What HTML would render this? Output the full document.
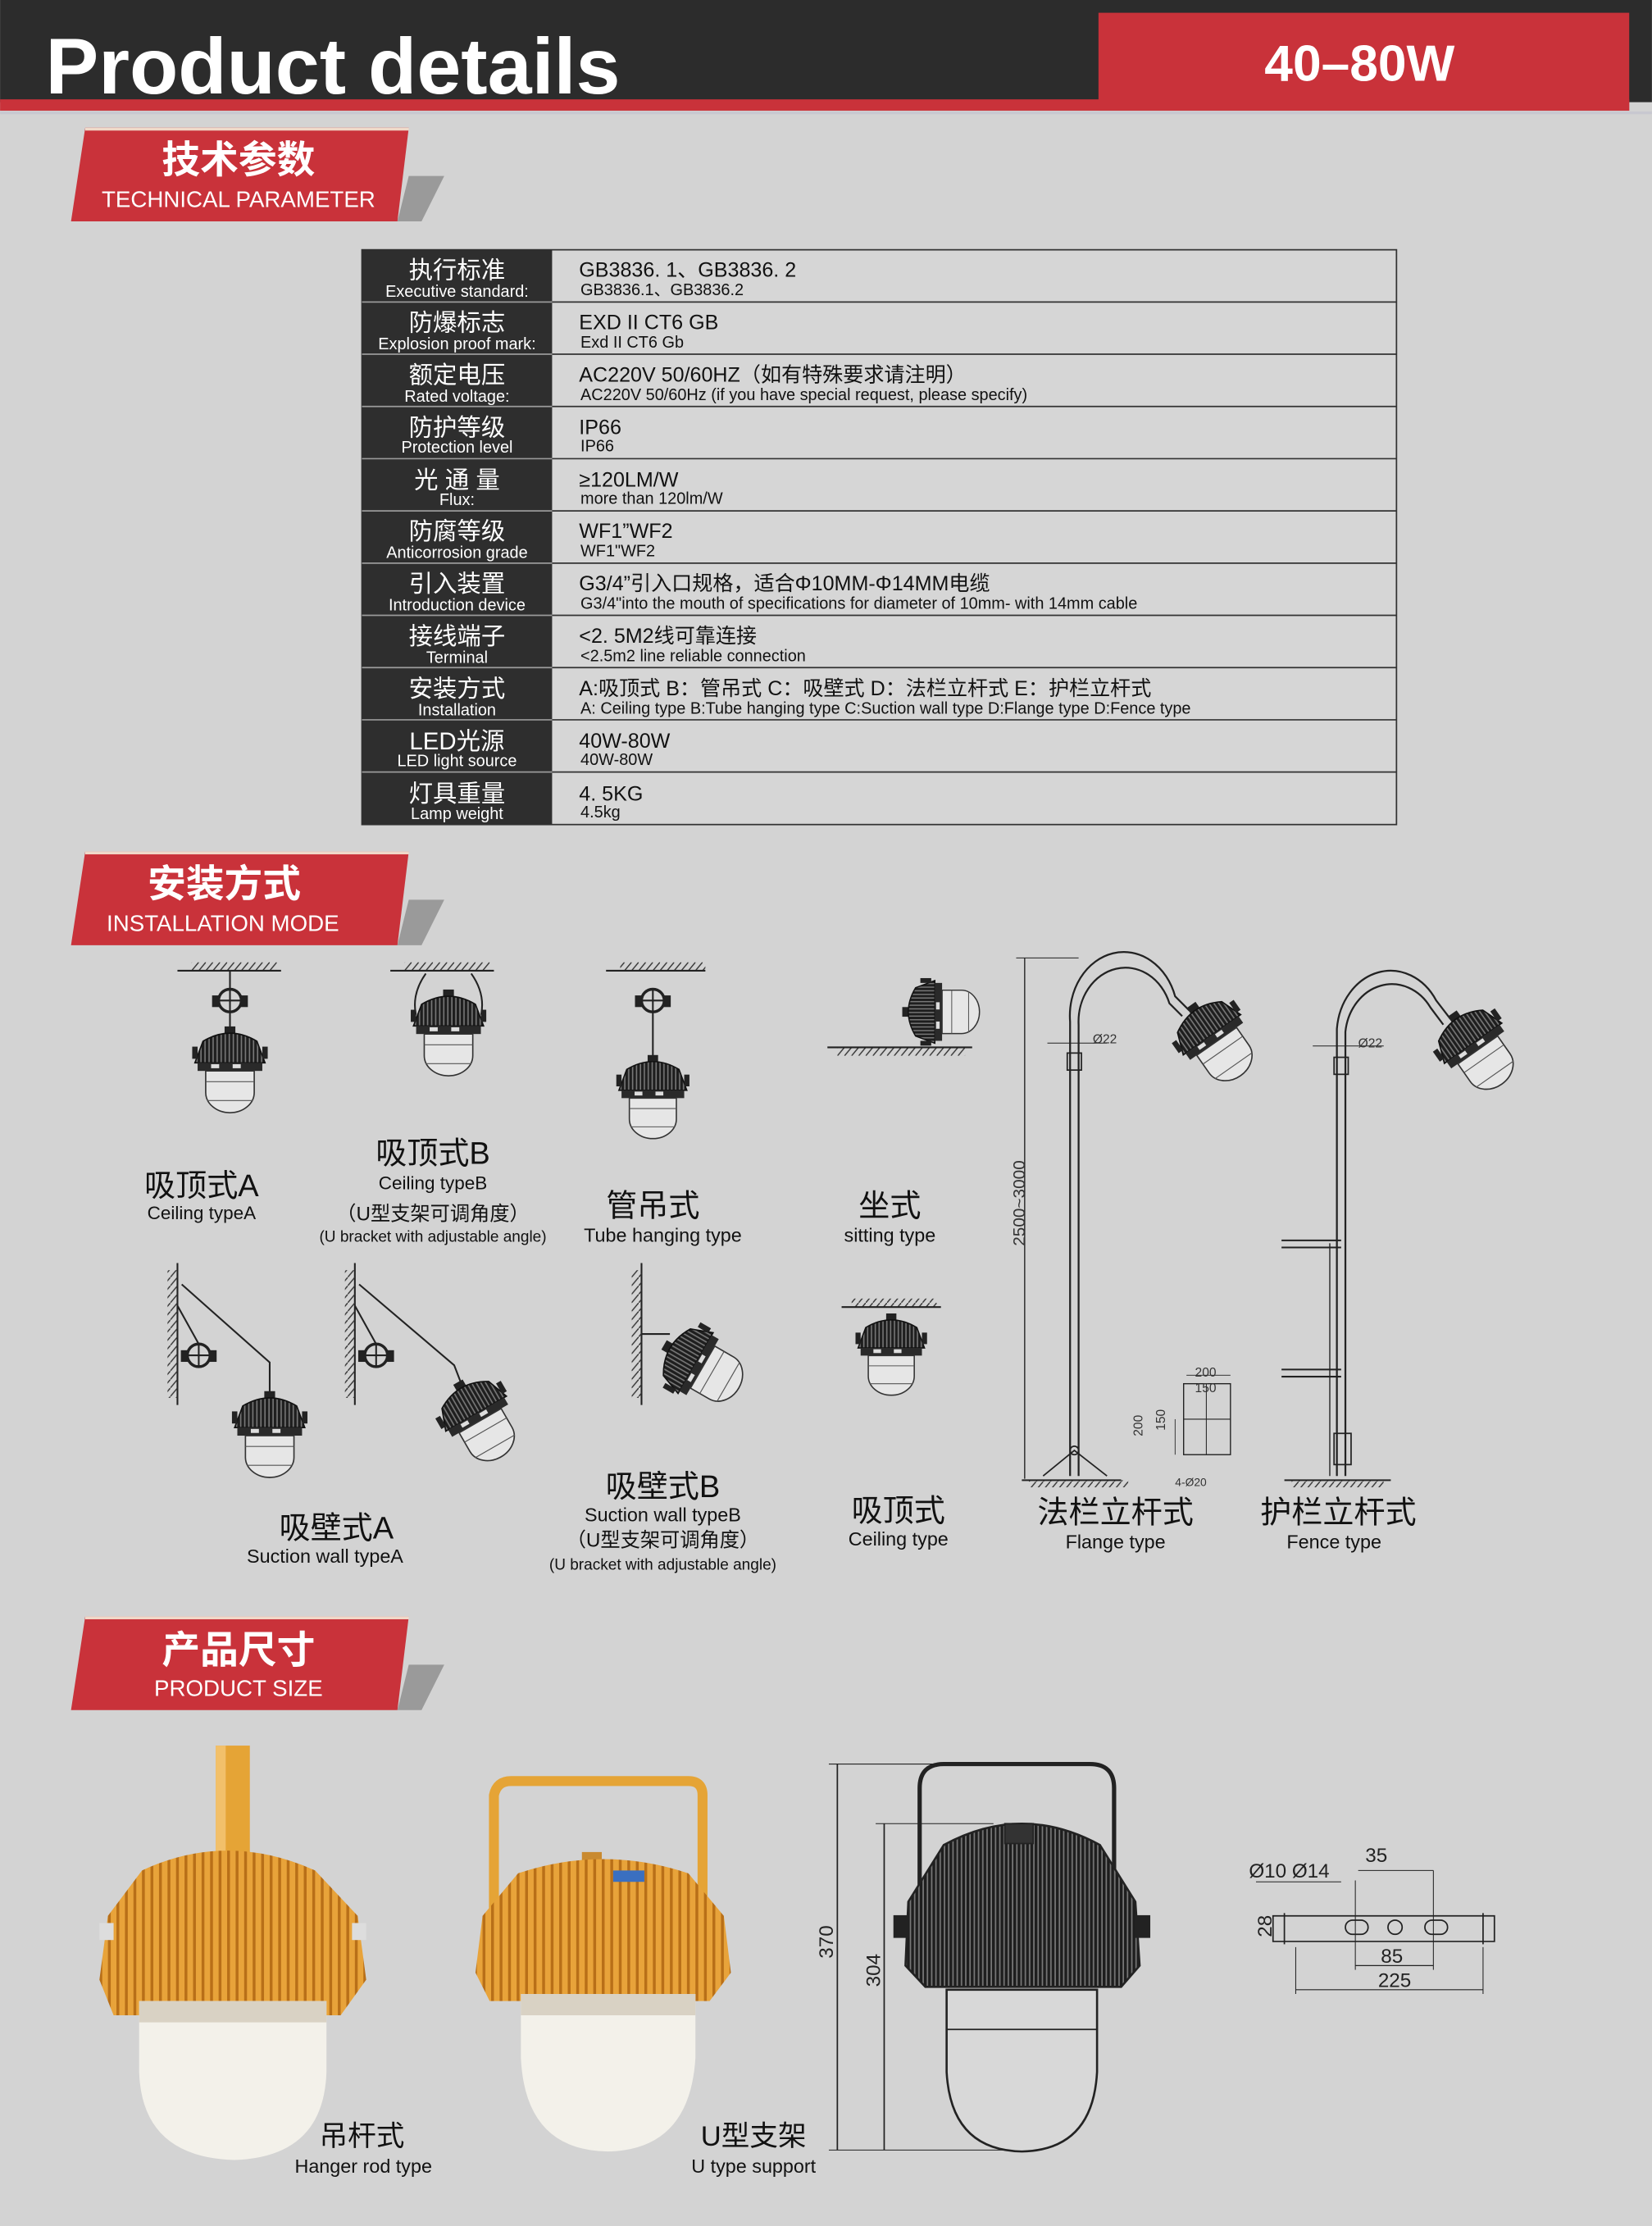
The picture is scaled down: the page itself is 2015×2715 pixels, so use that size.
<!DOCTYPE html>
<html><head><meta charset="utf-8"><style>
html,body{margin:0;padding:0;background:#d3d3d3;}
svg{display:block;}
text{font-family:"Liberation Sans","Noto Sans CJK SC",sans-serif;}
</style></head><body>
<svg width="2015" height="2715" viewBox="0 0 1164 1568.5" xmlns="http://www.w3.org/2000/svg">
<defs>
<pattern id="fins" width="3" height="10" patternUnits="userSpaceOnUse"><rect width="3" height="10" fill="#1e1e1e"/><rect x="2" width="1" height="10" fill="#777"/></pattern>
<pattern id="hatch" width="5" height="6" patternUnits="userSpaceOnUse"><path d="M0,6 L5,0" stroke="#333" stroke-width="0.8"/></pattern>
<pattern id="ofins" width="6" height="10" patternUnits="userSpaceOnUse"><rect width="6" height="10" fill="#e8a33a"/><rect x="4" width="2" height="10" fill="#b86f18"/></pattern>
<g id="lamp">
<rect x="-4" y="-5" width="8" height="7" fill="#222"/>
<path d="M-20,6 Q0,-6 20,6 L26,22 L-26,22 Z" fill="url(#fins)" stroke="#111" stroke-width="1"/>
<rect x="-28" y="10" width="4" height="9" fill="#222"/><rect x="24" y="10" width="4" height="9" fill="#222"/>
<rect x="-24" y="22" width="48" height="6" fill="#2a2a2a"/>
<rect x="-14" y="23" width="6" height="3" fill="#ddd"/><rect x="2" y="23" width="6" height="3" fill="#ddd"/>
<path d="M-18,28 L-18,44 A18,15 0 0 0 18,44 L18,28 Z" fill="#e6e6e6" stroke="#333" stroke-width="1"/>
<line x1="-18" y1="36" x2="18" y2="36" stroke="#555" stroke-width="0.7"/>
<line x1="-17" y1="50" x2="17" y2="50" stroke="#555" stroke-width="0.7"/>
</g>
<g id="ring"><circle cx="0" cy="0" r="8" fill="none" stroke="#222" stroke-width="2"/><line x1="-8" y1="0" x2="8" y2="0" stroke="#222"/><line x1="0" y1="-8" x2="0" y2="8" stroke="#222"/><rect x="-12" y="-3" width="4" height="7" fill="#222"/><rect x="8" y="-3" width="4" height="7" fill="#222"/></g>
</defs>
<rect width="1164" height="1568.5" fill="#d3d3d3"/>
<!-- header -->
<rect x="0" y="0" width="1164" height="72" fill="#2c2c2c"/>
<rect x="0" y="70" width="1148" height="8" fill="#c9323a"/>
<rect x="0" y="78.5" width="1164" height="2" fill="#c8c8d0"/>
<rect x="774" y="9" width="374" height="69" fill="#c9323a"/>
<text x="32" y="66" font-size="56" font-weight="bold" fill="#fff" textLength="405" lengthAdjust="spacingAndGlyphs">Product details</text>
<text x="958" y="57" font-size="36" font-weight="bold" fill="#fff" text-anchor="middle">40–80W</text>
<!-- banners -->
<g id="b1">
<polygon points="288,124 313,124 297,156 280,156" fill="#9a9a9a"/>
<polygon points="60,90 288,90 280,156 50,156" fill="#c9323a"/>
<rect x="60" y="90" width="228" height="2" fill="#f0d8c8"/>
</g>
<text x="168" y="122" font-size="27" font-weight="bold" fill="#fff" text-anchor="middle">技术参数</text>
<text x="168" y="146" font-size="16" fill="#fff" text-anchor="middle">TECHNICAL PARAMETER</text>
<use href="#b1" y="510"/>
<text x="158" y="632" font-size="27" font-weight="bold" fill="#fff" text-anchor="middle">安装方式</text>
<text x="157" y="656" font-size="16" fill="#fff" text-anchor="middle">INSTALLATION MODE</text>
<use href="#b1" y="1049"/>
<text x="168" y="1172" font-size="27" font-weight="bold" fill="#fff" text-anchor="middle">产品尺寸</text>
<text x="168" y="1195" font-size="16" fill="#fff" text-anchor="middle">PRODUCT SIZE</text>
<!-- table -->
<rect x="255" y="176" width="729" height="405" fill="#d6d6d6" stroke="#333" stroke-width="1"/>
<rect x="255" y="176" width="134" height="405" fill="#2e2e2e"/>
<g stroke="#333" stroke-width="1">
<line x1="389" y1="212.8" x2="984" y2="212.8"/><line x1="389" y1="249.6" x2="984" y2="249.6"/><line x1="389" y1="286.4" x2="984" y2="286.4"/><line x1="389" y1="323.2" x2="984" y2="323.2"/><line x1="389" y1="360" x2="984" y2="360"/><line x1="389" y1="396.8" x2="984" y2="396.8"/><line x1="389" y1="433.6" x2="984" y2="433.6"/><line x1="389" y1="470.4" x2="984" y2="470.4"/><line x1="389" y1="507.2" x2="984" y2="507.2"/><line x1="389" y1="544" x2="984" y2="544"/>
</g>
<g stroke="#9a9a9a" stroke-width="1">
<line x1="255" y1="212.8" x2="389" y2="212.8"/><line x1="255" y1="249.6" x2="389" y2="249.6"/><line x1="255" y1="286.4" x2="389" y2="286.4"/><line x1="255" y1="323.2" x2="389" y2="323.2"/><line x1="255" y1="360" x2="389" y2="360"/><line x1="255" y1="396.8" x2="389" y2="396.8"/><line x1="255" y1="433.6" x2="389" y2="433.6"/><line x1="255" y1="470.4" x2="389" y2="470.4"/><line x1="255" y1="507.2" x2="389" y2="507.2"/><line x1="255" y1="544" x2="389" y2="544"/>
</g>
<g fill="#fff" text-anchor="middle">
<g font-size="17"><text x="322" y="196">执行标准</text><text x="322" y="233">防爆标志</text><text x="322" y="270">额定电压</text><text x="322" y="307">防护等级</text><text x="322" y="344">光 通 量</text><text x="322" y="380">防腐等级</text><text x="322" y="417">引入装置</text><text x="322" y="454">接线端子</text><text x="322" y="491">安装方式</text><text x="322" y="528">LED光源</text><text x="322" y="565">灯具重量</text></g>
<g font-size="11.5"><text x="322" y="209">Executive standard:</text><text x="322" y="246">Explosion proof mark:</text><text x="322" y="283">Rated voltage:</text><text x="322" y="319">Protection level</text><text x="322" y="356">Flux:</text><text x="322" y="393">Anticorrosion grade</text><text x="322" y="430">Introduction device</text><text x="322" y="467">Terminal</text><text x="322" y="504">Installation</text><text x="322" y="540">LED light source</text><text x="322" y="577">Lamp weight</text></g>
</g>
<g fill="#111">
<g font-size="14.5"><text x="408" y="195">GB3836. 1、GB3836. 2</text><text x="408" y="232">EXD  II  CT6  GB</text><text x="408" y="269">AC220V  50/60HZ（如有特殊要求请注明）</text><text x="408" y="306">IP66</text><text x="408" y="343">≥120LM/W</text><text x="408" y="379">WF1”WF2</text><text x="408" y="416">G3/4”引入口规格，适合Φ10MM-Φ14MM电缆</text><text x="408" y="453">&lt;2. 5M2线可靠连接</text><text x="408" y="490">A:吸顶式   B：管吊式   C：吸壁式   D：法栏立杆式   E：护栏立杆式</text><text x="408" y="527">40W-80W</text><text x="408" y="564">4. 5KG</text></g>
<g font-size="11.5"><text x="409" y="208">GB3836.1、GB3836.2</text><text x="409" y="245">Exd II CT6 Gb</text><text x="409" y="282">AC220V 50/60Hz (if you have special request, please specify)</text><text x="409" y="318">IP66</text><text x="409" y="355">more than 120lm/W</text><text x="409" y="392">WF1"WF2</text><text x="409" y="429">G3/4"into the mouth of specifications for diameter of 10mm- with 14mm cable</text><text x="409" y="466">&lt;2.5m2 line reliable connection</text><text x="409" y="503">A:  Ceiling type B:Tube hanging type C:Suction wall type D:Flange type D:Fence type</text><text x="409" y="539">40W-80W</text><text x="409" y="576">4.5kg</text></g>
</g>
<!-- installation drawings -->
<g stroke="#222" fill="none" stroke-width="1.2">
<!-- ceiling A -->
<rect x="135" y="678" width="60" height="6" fill="url(#hatch)" stroke="none"/><line x1="125" y1="684" x2="198" y2="684"/>
<line x1="162" y1="684" x2="162" y2="697"/><use href="#ring" x="162" y="705"/><line x1="162" y1="713" x2="162" y2="728"/>
<!-- ceiling B -->
<rect x="285" y="678" width="60" height="6" fill="url(#hatch)" stroke="none"/><line x1="275" y1="684" x2="348" y2="684"/>
<path d="M300,686 Q290,700 293,715 M332,686 Q342,700 339,715"/>
<!-- tube -->
<rect x="437" y="678" width="60" height="6" fill="url(#hatch)" stroke="none"/><line x1="427" y1="684" x2="497" y2="684"/>
<use href="#ring" x="460" y="705"/><line x1="460" y1="713" x2="460" y2="748"/>
<!-- sitting -->
<rect x="590" y="738" width="90" height="6" fill="url(#hatch)" stroke="none"/><line x1="583" y1="738" x2="685" y2="738"/>
<!-- wall A -->
<line x1="125" y1="890" x2="125" y2="990"/><rect x="118" y="895" width="7" height="90" fill="url(#hatch)" stroke="none"/>
<use href="#ring" x="140" y="955"/><path d="M128,905 L190,960 L190,982"/><line x1="125" y1="920" x2="140" y2="947"/>
<line x1="250" y1="890" x2="250" y2="990"/><rect x="243" y="895" width="7" height="90" fill="url(#hatch)" stroke="none"/>
<use href="#ring" x="265" y="955"/><path d="M253,905 L320,962 L325,975"/><line x1="250" y1="920" x2="265" y2="947"/>
<!-- wall B -->
<line x1="452" y1="890" x2="452" y2="990"/><rect x="445" y="895" width="7" height="90" fill="url(#hatch)" stroke="none"/><line x1="452" y1="940" x2="472" y2="940"/>
<!-- ceiling -->
<rect x="600" y="915" width="60" height="6" fill="url(#hatch)" stroke="none"/><line x1="593" y1="921" x2="663" y2="921"/>
<!-- flange pole -->
<path d="M754,1040 L754,720 A38,45 0 0 1 828,702 L838,712" stroke-width="1.3"/>
<path d="M760,1040 L760,722 A33,38 0 0 1 824,707 L833,716" stroke-width="1.3"/>
<rect x="752" y="742" width="10" height="12" stroke-width="1"/>
<line x1="722" y1="675" x2="722" y2="1042" stroke-width="0.8"/><line x1="716" y1="675" x2="760" y2="675" stroke-width="0.6"/>
<path d="M735,1040 L757,1022 L780,1040" stroke-width="1"/><circle cx="757" cy="1022" r="3" stroke-width="1"/>
<rect x="725" y="1043" width="70" height="5" fill="url(#hatch)" stroke="none"/><line x1="720" y1="1043" x2="790" y2="1043"/>
<line x1="738" y1="735" x2="780" y2="735" stroke-width="0.6"/>
<rect x="834" y="975" width="33" height="50" stroke-width="0.8"/><line x1="850" y1="975" x2="850" y2="1025" stroke-width="0.6"/><line x1="834" y1="1000" x2="867" y2="1000" stroke-width="0.6"/>
<line x1="828" y1="1000" x2="828" y2="1025" stroke-width="0.5"/><line x1="836" y1="969" x2="867" y2="969" stroke-width="0.5"/>
<!-- fence pole -->
<path d="M942,1040 L942,725 A38,45 0 0 1 1012,705 L1022,718" stroke-width="1.3"/>
<path d="M948,1040 L948,727 A33,38 0 0 1 1008,710 L1017,722" stroke-width="1.3"/>
<rect x="940" y="745" width="10" height="12" stroke-width="1"/><line x1="925" y1="737" x2="975" y2="737" stroke-width="0.6"/>
<line x1="903" y1="874" x2="945" y2="874"/><line x1="903" y1="879" x2="945" y2="879"/>
<line x1="903" y1="965" x2="945" y2="965"/><line x1="903" y1="970" x2="945" y2="970"/>
<line x1="937" y1="876" x2="937" y2="1040" stroke-width="0.8"/>
<rect x="940" y="1010" width="12" height="22" stroke-width="1"/>
<rect x="910" y="1043" width="65" height="5" fill="url(#hatch)" stroke="none"/><line x1="905" y1="1043" x2="980" y2="1043"/>
</g>
<use href="#lamp" x="162" y="728" transform="translate(162 728) scale(0.95) translate(-162 -728)"/>
<use href="#lamp" x="316" y="702" transform="translate(316 702) scale(0.95) translate(-316 -702)"/>
<use href="#lamp" x="460" y="748" transform="translate(460 748) scale(0.92) translate(-460 -748)"/>
<use href="#lamp" transform="translate(640 713) rotate(-90) scale(0.85)"/>
<use href="#lamp" transform="translate(190 985) scale(0.95)"/>
<use href="#lamp" transform="translate(325 978) rotate(-30) scale(0.95)"/>
<use href="#lamp" transform="translate(472 950) rotate(-60) scale(0.95)"/>
<use href="#lamp" transform="translate(628 930) scale(0.9)"/>
<use href="#lamp" transform="translate(842 712) rotate(-35) scale(0.95)"/>
<use href="#lamp" transform="translate(1026 718) rotate(-35) scale(0.95)"/>
<g fill="#333" font-family="Liberation Serif" font-size="9">
<text x="770" y="735">Ø22</text><text x="957" y="738">Ø22</text>
<text x="842" y="970">200</text><text x="842" y="981">150</text>
<text transform="translate(805 1012) rotate(-90)">200</text><text transform="translate(821 1008) rotate(-90)">150</text>
<text x="828" y="1047" font-size="8">4-Ø20</text>
<text transform="translate(722 878) rotate(-90)" font-size="12">2500~3000</text>
</g>
<g fill="#111" text-anchor="middle">
<text x="142" y="843" font-size="22">吸顶式A</text><text x="142" y="859" font-size="13">Ceiling typeA</text>
<text x="305" y="820" font-size="22">吸顶式B</text><text x="305" y="838" font-size="13">Ceiling typeB</text>
<text x="305" y="860" font-size="14">（U型支架可调角度）</text><text x="305" y="875" font-size="11">(U bracket with adjustable angle)</text>
<text x="460" y="857" font-size="22">管吊式</text><text x="467" y="875" font-size="13.5">Tube hanging type</text>
<text x="627" y="857" font-size="22">坐式</text><text x="627" y="875" font-size="13.5">sitting type</text>
<text x="237" y="1084" font-size="22">吸壁式A</text><text x="229" y="1101" font-size="13.5">Suction wall typeA</text>
<text x="467" y="1055" font-size="22">吸壁式B</text><text x="467" y="1072" font-size="13.5">Suction wall typeB</text>
<text x="467" y="1090" font-size="14">（U型支架可调角度）</text><text x="467" y="1106" font-size="11">(U bracket with adjustable angle)</text>
<text x="633" y="1072" font-size="22">吸顶式</text><text x="633" y="1089" font-size="13.5">Ceiling type</text>
<text x="786" y="1073" font-size="22">法栏立杆式</text><text x="786" y="1091" font-size="13.5">Flange type</text>
<text x="943" y="1073" font-size="22">护栏立杆式</text><text x="940" y="1091" font-size="13.5">Fence type</text>
</g>
<!-- product photos -->
<g>
<rect x="152" y="1230" width="24" height="95" fill="#e5a436"/><rect x="152" y="1230" width="7" height="95" fill="#f2c06a"/>
<path d="M100,1318 Q160,1290 222,1318 L252,1350 L258,1395 L240,1420 L80,1420 L70,1395 L76,1350 Z" fill="url(#ofins)"/>
<rect x="70" y="1355" width="10" height="12" fill="#ddd"/><rect x="248" y="1355" width="10" height="12" fill="#ddd"/>
<path d="M98,1410 L98,1460 Q100,1520 165,1522 Q228,1520 230,1460 L230,1410 Z" fill="#f3f1ea"/>
<path d="M98,1410 L230,1410 L230,1425 L98,1425 Z" fill="#d9d2c4"/>
<path d="M348,1375 L348,1265 Q350,1255 360,1255 L485,1255 Q495,1255 495,1265 L495,1375" fill="none" stroke="#e5a436" stroke-width="7"/>
<rect x="410" y="1305" width="14" height="14" fill="#c98a30"/>
<path d="M365,1320 Q425,1300 485,1320 L510,1350 L515,1390 L500,1410 L345,1410 L335,1390 L340,1350 Z" fill="url(#ofins)"/>
<rect x="432" y="1318" width="22" height="8" fill="#3a6fc0"/>
<path d="M367,1405 L367,1450 Q370,1515 428,1516 Q486,1515 490,1450 L490,1405 Z" fill="#f3f1ea"/>
<path d="M367,1405 L490,1405 L490,1420 L367,1420 Z" fill="#d9d2c4"/>
</g>
<g fill="#111" text-anchor="middle">
<text x="255" y="1512" font-size="20">吊杆式</text><text x="256" y="1531" font-size="13.5">Hanger rod type</text>
<text x="531" y="1512" font-size="20">U型支架</text><text x="531" y="1531" font-size="13.5">U type support</text>
</g>
<!-- dimension drawing -->
<g stroke="#222" fill="none" stroke-width="1">
<line x1="590" y1="1243" x2="590" y2="1515"/><line x1="584" y1="1243" x2="720" y2="1243" stroke-width="0.6"/><line x1="584" y1="1515" x2="720" y2="1515" stroke-width="0.6"/>
<line x1="623" y1="1285" x2="623" y2="1515"/><line x1="617" y1="1285" x2="700" y2="1285" stroke-width="0.6"/>
<path d="M648,1340 L648,1260 Q648,1243 665,1243 L768,1243 Q785,1243 785,1260 L785,1340" stroke-width="3"/>
<path d="M665,1300 Q720,1270 775,1300 L800,1340 L803,1385 L790,1400 L652,1400 L638,1385 L640,1340 Z" fill="url(#fins)" stroke-width="1.5"/>
<rect x="630" y="1350" width="10" height="15" fill="#222"/><rect x="800" y="1350" width="10" height="15" fill="#222"/>
<rect x="708" y="1285" width="20" height="14" fill="#333"/>
<path d="M667,1402 L667,1460 Q670,1515 720,1516 Q770,1515 773,1460 L773,1402 Z" fill="#d8d8d8" stroke-width="1.5"/>
<line x1="667" y1="1430" x2="773" y2="1430"/>
<!-- bracket -->
<path d="M897,1350 L1053,1350 L1053,1368 L897,1368 Z"/>
<line x1="905" y1="1348" x2="905" y2="1370"/><line x1="1045" y1="1348" x2="1045" y2="1370"/>
<rect x="948" y="1353" width="16" height="10" rx="5"/><circle cx="983" cy="1358" r="5"/><rect x="1004" y="1353" width="16" height="10" rx="5"/>
<line x1="913" y1="1402" x2="1045" y2="1402" stroke-width="0.7"/><line x1="913" y1="1372" x2="913" y2="1405" stroke-width="0.6"/><line x1="1045" y1="1372" x2="1045" y2="1405" stroke-width="0.6"/>
<line x1="955" y1="1385" x2="1010" y2="1385" stroke-width="0.7"/><line x1="955" y1="1325" x2="955" y2="1388" stroke-width="0.6"/><line x1="1010" y1="1318" x2="1010" y2="1388" stroke-width="0.6"/>
<line x1="957" y1="1318" x2="1010" y2="1318" stroke-width="0.6"/><line x1="885" y1="1326" x2="945" y2="1326" stroke-width="0.6"/>
</g>
<g fill="#222" font-family="Liberation Serif" font-size="14">
<text transform="translate(587 1380) rotate(-90)">370</text>
<text transform="translate(620 1400) rotate(-90)">304</text>
<text x="880" y="1323">Ø10 Ø14</text><text x="962" y="1312">35</text>
<text transform="translate(896 1365) rotate(-90)">28</text>
<text x="973" y="1383">85</text><text x="971" y="1400">225</text>
</g>
</svg>
</body></html>
